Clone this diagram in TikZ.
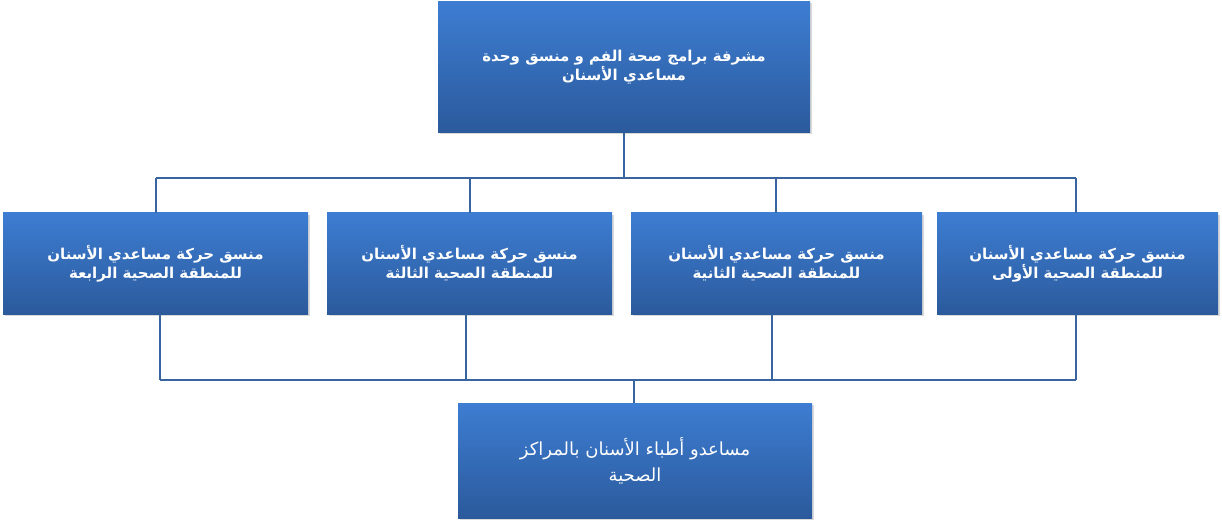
\documentclass[tikz,border=0pt]{standalone}
\usepackage{fontspec}
\newfontfamily\arabicfont[Script=Arabic]{DejaVu Sans}
\TeXXeTstate=1
\usetikzlibrary{shadows}
\definecolor{btop}{HTML}{3D7DD2}
\definecolor{bbot}{HTML}{2B5A9C}
\definecolor{lc}{HTML}{3A64A0}
\tikzset{
 box/.style={draw=none,top color=btop,bottom color=bbot,text=white,align=center,
   font=\arabicfont\bfseries\fontsize{15}{19}\selectfont,
   drop shadow={shadow xshift=2pt,shadow yshift=-2pt,opacity=0.3}},
 ln/.style={draw=lc,line width=2pt}
}
\begin{document}
\begin{tikzpicture}[x=1pt,y=-1pt]
\useasboundingbox (0,0) rectangle (1222,529);
\node[box,minimum width=372,minimum height=131] (top) at (624,67) {\beginR مشرفة برامج صحة الفم و منسق وحدة\endR\\\beginR مساعدي الأسنان\endR};
\node[box,minimum width=305,minimum height=101] (b4) at (155.5,263.5) {\beginR منسق حركة مساعدي الأسنان\endR\\\beginR للمنطقة الصحية الرابعة\endR};
\node[box,minimum width=285,minimum height=101] (b3) at (469.5,263.5) {\beginR منسق حركة مساعدي الأسنان\endR\\\beginR للمنطقة الصحية الثالثة\endR};
\node[box,minimum width=291,minimum height=101] (b2) at (776.5,263.5) {\beginR منسق حركة مساعدي الأسنان\endR\\\beginR للمنطقة الصحية الثانية\endR};
\node[box,minimum width=281,minimum height=101] (b1) at (1077.5,263.5) {\beginR منسق حركة مساعدي الأسنان\endR\\\beginR للمنطقة الصحية الأولى\endR};
\node[box,minimum width=354,minimum height=115,font=\arabicfont\fontsize{18}{26}\selectfont] (bot) at (635,460.5) {\beginR مساعدو أطباء الأسنان بالمراكز\endR\\\beginR الصحية\endR};
\coordinate (h) at (624,178);
\draw[ln] (top.south) -- (h);
\draw[ln] (156,178) -- (1076,178);
\foreach \n/\x in {b4/156,b3/470,b2/776,b1/1076} \draw[ln] (\x,178) -- (\x,0 |- \n.north);
\foreach \n/\x in {b4/160,b3/466,b2/772,b1/1076} \draw[ln] (\x,0 |- \n.south) -- (\x,380);
\draw[ln] (160,380) -- (1076,380);
\draw[ln] (634,380) -- (634,0 |- bot.north);
\end{tikzpicture}
\end{document}
